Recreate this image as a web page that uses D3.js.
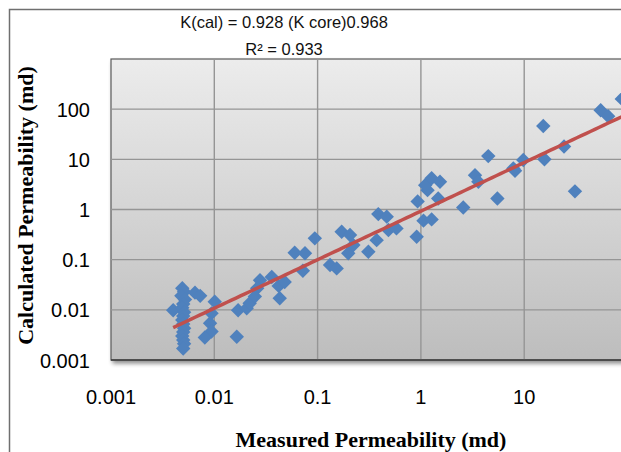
<!DOCTYPE html>
<html>
<head>
<meta charset="utf-8">
<script src="https://cdn.jsdelivr.net/npm/d3@7"></script>
<style>
html,body{margin:0;padding:0;background:#fff;}
svg{display:block;}
</style>
</head>
<body>
<svg id="chart" width="621" height="452"></svg>
<script>
// ---- data ----
const measured = [
  0.004,
  0.0049, 0.0051, 0.0048, 0.0052, 0.005, 0.0049, 0.0051, 0.005, 0.0049, 0.005, 0.0051, 0.005, 0.0049, 0.005, 0.0051, 0.005,
  0.0065, 0.0073,
  0.0101, 0.0094, 0.0091, 0.0094, 0.0081,
  0.0165, 0.017, 0.0206, 0.022,
  0.0277, 0.026, 0.0247,
  0.036, 0.042, 0.048, 0.043,
  0.072,
  0.060, 0.0755, 0.094,
  0.132, 0.153,
  0.171, 0.206, 0.198, 0.222,
  0.31, 0.373, 0.387, 0.467, 0.485, 0.58,
  0.91, 0.93, 1.06, 1.16,
  1.27, 1.10, 1.27, 1.53, 1.47,
  2.57, 3.34, 3.6, 4.49, 5.5,
  7.85, 8.15, 9.8,
  15.3, 15.7, 24.3, 31, 55, 65, 88
];
const calculated = [
  0.0098,
  0.027, 0.023, 0.019, 0.016, 0.013, 0.011, 0.009, 0.0075, 0.0063, 0.0052, 0.0043, 0.0036, 0.003, 0.0025, 0.0021, 0.0017,
  0.022, 0.019,
  0.0145, 0.0085, 0.0054, 0.0037, 0.0028,
  0.0029, 0.0098, 0.0107, 0.0135,
  0.039, 0.027, 0.0185,
  0.045, 0.03, 0.036, 0.017,
  0.06,
  0.137, 0.134, 0.266,
  0.078, 0.067,
  0.36, 0.31, 0.134, 0.195,
  0.144, 0.245, 0.81, 0.72, 0.39, 0.42,
  0.286, 1.45, 0.6, 2.43,
  0.635, 3.06, 4.2, 3.56, 1.66,
  1.1, 4.84, 3.56, 11.6, 1.66,
  6.6, 5.9, 9.7,
  46, 10, 18, 2.3, 95, 72, 160
];
const xTicks = [0.001, 0.01, 0.1, 1, 10, 100];
const xTickLabels = ["0.001", "0.01", "0.1", "1", "10", ""];
const yTicks = [0.001, 0.01, 0.1, 1, 10, 100, 1000];
const yTickLabels = ["0.001", "0.01", "0.1", "1", "10", "100", ""];
const trendCoef = 0.928, trendExp = 0.968;
const titleLine1 = "K(cal) = 0.928 (K core)0.968";
const titleLine2 = "R\u00B2 = 0.933";
const xTitle = "Measured Permeability (md)";
const yTitle = "Calculated Permeability (md)";

// ---- layout ----
const L = 111, T = 59, B = 360, R = 627.5;
const svg = d3.select("#chart");
const x = d3.scaleLog().domain([0.001, 100]).range([L, R]);
const y = d3.scaleLog().domain([0.001, 1000]).range([B, T]);

const defs = svg.append("defs");
const grad = defs.append("linearGradient").attr("id","pg").attr("x1",0).attr("y1",0).attr("x2",0).attr("y2",1);
grad.append("stop").attr("offset","0%").attr("stop-color","#ececec");
grad.append("stop").attr("offset","100%").attr("stop-color","#bdbdbd");
const f = defs.append("filter").attr("id","sh").attr("x","-5%").attr("y","-5%").attr("width","115%").attr("height","120%");
f.append("feGaussianBlur").attr("in","SourceAlpha").attr("stdDeviation",2);
f.append("feOffset").attr("dx",2).attr("dy",3).attr("result","ob");
f.append("feComponentTransfer").append("feFuncA").attr("type","linear").attr("slope",0.45);
const fm = f.append("feMerge");
fm.append("feMergeNode");
fm.append("feMergeNode").attr("in","SourceGraphic");
defs.append("clipPath").attr("id","clip").append("rect")
  .attr("x",L).attr("y",T).attr("width",R-L).attr("height",B-T);

// outer chart border
svg.append("path").attr("d","M9.5,452 V9.5 H621")
  .attr("fill","none").attr("stroke","#6f6f6f").attr("stroke-width",1.5);

// plot area
svg.append("rect").attr("x",L).attr("y",T).attr("width",R-L).attr("height",B-T)
  .attr("fill","url(#pg)").attr("stroke","#5a5a5a").attr("stroke-width",1.2)
  .attr("filter","url(#sh)");

// gridlines
const g = svg.append("g").attr("clip-path","url(#clip)");
g.selectAll(".vg").data(xTicks.slice(1)).join("line")
  .attr("x1",d=>x(d)).attr("x2",d=>x(d)).attr("y1",T).attr("y2",B)
  .attr("stroke","#959595").attr("stroke-width",1.4);
g.selectAll(".hg").data(yTicks.slice(1,-1)).join("line")
  .attr("y1",d=>y(d)).attr("y2",d=>y(d)).attr("x1",L).attr("x2",R)
  .attr("stroke","#959595").attr("stroke-width",1.4);

// bottom border darker
svg.append("line").attr("x1",L).attr("x2",R).attr("y1",B).attr("y2",B)
  .attr("stroke","#3c3c3c").attr("stroke-width",1.5);

// points
const sym = d3.symbol().type(d3.symbolSquare).size(104);
const pts = measured.map((m,i)=>({m, c: calculated[i]}));
g.selectAll(".pt").data(pts).join("path")
  .attr("d", sym)
  .attr("transform", d=>`translate(${x(d.m)},${y(d.c)}) rotate(45)`)
  .attr("fill","#4f81bd");

// power trendline
const ext = d3.extent(measured);
const lx = d3.range(0, 101).map(i => Math.pow(10, Math.log10(ext[0]) + i/100*(Math.log10(ext[1])-Math.log10(ext[0]))));
g.append("path").datum(lx)
  .attr("d", d3.line().x(d=>x(d)).y(d=>y(trendCoef*Math.pow(d,trendExp))))
  .attr("fill","none").attr("stroke","#c0504d").attr("stroke-width",3.5);

// axes labels
const font = "'Liberation Sans', Arial, sans-serif";
svg.append("g").selectAll("text").data(yTicks).join("text")
  .attr("x",90).attr("y",d=>y(d)+7.5).attr("text-anchor","end")
  .attr("font-family",font).attr("font-size",20).attr("fill","#000")
  .text((d,i)=>yTickLabels[i]);
svg.append("g").selectAll("text").data(xTicks).join("text")
  .attr("x",d=>x(d)).attr("y",404).attr("text-anchor","middle")
  .attr("font-family",font).attr("font-size",20).attr("fill","#000")
  .text((d,i)=>xTickLabels[i]);

// titles
svg.append("text").attr("x",284).attr("y",28).attr("text-anchor","middle")
  .attr("font-family",font).attr("font-size",16.5).attr("fill","#111").text(titleLine1);
svg.append("text").attr("x",284).attr("y",55).attr("text-anchor","middle")
  .attr("font-family",font).attr("font-size",16.5).attr("fill","#111").text(titleLine2);

const serif = "'Liberation Serif', 'Times New Roman', serif";
svg.append("text").attr("x",371).attr("y",447).attr("text-anchor","middle")
  .attr("font-family",serif).attr("font-weight","bold").attr("font-size",22).text(xTitle);
svg.append("text").attr("transform","translate(33,205.5) rotate(-90)").attr("text-anchor","middle")
  .attr("font-family",serif).attr("font-weight","bold").attr("font-size",22).text(yTitle);
</script>
</body>
</html>
